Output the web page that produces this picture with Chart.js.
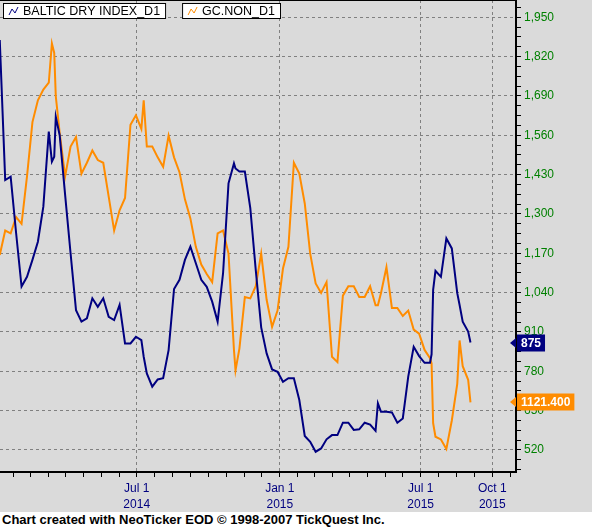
<!DOCTYPE html>
<html>
<head>
<meta charset="utf-8">
<script src="https://cdn.jsdelivr.net/npm/chart.js@4.4.1/dist/chart.umd.min.js"></script>
<style>
  html, body { margin: 0; padding: 0; background: #fff; }
  #wrap { width: 592px; height: 528px; }
  canvas { display: block; background: #dadada; }
  #credit {
    height: 16px; line-height: 16px; padding-left: 2px;
    font: bold 13px "Liberation Sans", Arial, sans-serif; color: #000;
  }
</style>
</head>
<body>
<div id="wrap">
  <canvas id="myChart" width="592" height="512"></canvas>
  <div id="credit">Chart created with NeoTicker EOD © 1998-2007 TickQuest Inc.</div>
</div>
<script>
// samples (roughly weekly, plus a few turning points)
var dates = [
  '2014-01-06','2014-01-13','2014-01-20','2014-01-27',
  '2014-02-03','2014-02-10','2014-02-17','2014-02-24',
  '2014-03-03','2014-03-10','2014-03-14','2014-03-17','2014-03-19','2014-03-24','2014-03-31',
  '2014-04-07','2014-04-14','2014-04-21','2014-04-28',
  '2014-05-05','2014-05-12','2014-05-19','2014-05-26',
  '2014-06-02','2014-06-09','2014-06-16','2014-06-23','2014-06-30',
  '2014-07-07','2014-07-10','2014-07-14','2014-07-21','2014-07-28',
  '2014-08-04','2014-08-11','2014-08-18','2014-08-25',
  '2014-09-01','2014-09-08','2014-09-15','2014-09-22','2014-09-29',
  '2014-10-06','2014-10-13','2014-10-20','2014-10-27',
  '2014-11-03','2014-11-05','2014-11-10','2014-11-17','2014-11-24',
  '2014-12-01','2014-12-08','2014-12-15','2014-12-22','2014-12-29',
  '2015-01-05','2015-01-12','2015-01-19','2015-01-26',
  '2015-02-02','2015-02-09','2015-02-16','2015-02-23',
  '2015-03-02','2015-03-09','2015-03-16','2015-03-23','2015-03-30',
  '2015-04-06','2015-04-13','2015-04-20','2015-04-27',
  '2015-05-04','2015-05-07','2015-05-11','2015-05-18','2015-05-25',
  '2015-06-01','2015-06-08','2015-06-15','2015-06-22','2015-06-29',
  '2015-07-06','2015-07-13','2015-07-15','2015-07-17','2015-07-20','2015-07-27',
  '2015-08-03','2015-08-10','2015-08-17','2015-08-20','2015-08-24','2015-08-31',
  '2015-09-03'
];

var bdi = [
  1875, 1412, 1423, 1237,
  1060, 1092, 1148, 1208,
  1324, 1572, 1473, 1489, 1621, 1560, 1363,
  1170, 982, 944, 955,
  1021, 993, 1021, 960,
  949, 999, 872, 872, 894,
  883, 828, 773, 729, 753,
  757, 850, 1052, 1082,
  1148, 1192, 1137, 1082, 1059,
  1010, 944, 1104, 1401,
  1467, 1450, 1440, 1440, 1319,
  1115, 925, 839, 786, 778,
  745, 757, 757, 685,
  566, 547, 514, 525,
  555, 569, 569, 610, 610,
  586, 588, 610, 604,
  583, 674, 646, 646, 644,
  610, 624, 762, 861, 830,
  808, 808, 836, 1049, 1112, 1092,
  1219, 1186, 1038, 999, 944, 911,
  875
];

var gold = [
  1230, 1248, 1246, 1258,
  1253, 1288, 1328, 1344,
  1352, 1357, 1386, 1379, 1347, 1320, 1288,
  1310, 1317, 1290, 1298,
  1307, 1300, 1298, 1273,
  1248, 1263, 1272, 1326, 1333,
  1323, 1344, 1310, 1310, 1302,
  1295, 1318, 1302, 1291,
  1271, 1257, 1236, 1223, 1216,
  1210, 1246, 1248, 1231,
  1160, 1145, 1161, 1199, 1198,
  1207, 1231, 1197, 1177, 1189,
  1220, 1236, 1298, 1290,
  1268, 1231, 1209, 1202,
  1210, 1155, 1151, 1200, 1207,
  1207, 1199, 1199, 1207,
  1193, 1193, 1202, 1221, 1191,
  1191, 1185, 1189, 1175, 1172,
  1160, 1154, 1150, 1106, 1096, 1094,
  1087, 1108, 1135, 1167, 1148, 1138,
  1121.4
];

var seriesNames = ['BALTIC DRY INDEX_D1', 'GC.NON_D1'];
var seriesColors = ['#000080', '#ff8c00'];
var tagDecimals = [0, 3];

var yTicks = [520, 650, 780, 910, 1040, 1170, 1300, 1430, 1560, 1690, 1820, 1950];
var xTickDates = ['2014-07-01', '2015-01-01', '2015-07-01', '2015-10-01'];
var xTickLabels = [['Jul 1', '2014'], ['Jan 1', '2015'], ['Jul 1', '2015'], ['Oct 1', '2015']];
var quarterStarts = ['2014-01-01', '2014-04-01', '2014-07-01', '2014-10-01', '2015-01-01',
                     '2015-04-01', '2015-07-01', '2015-10-01', '2016-01-01'];

var T0 = Date.UTC(2014, 0, 1);
function toDay(s) { return (Date.parse(s) - T0) / 86400000; }

var xMajor = xTickDates.map(toDay);
var X_MIN = 5.3, X_MAX = 668.5;

// minor x ticks: each quarter split in four
var xAll = [];
for (var q = 0; q < quarterStarts.length - 1; q++) {
  var a = toDay(quarterStarts[q]), b = toDay(quarterStarts[q + 1]);
  for (var j = 0; j < 4; j++) {
    var d = a + (b - a) * j / 4;
    if (d >= X_MIN && d <= X_MAX) xAll.push(d);
  }
}

// minor y ticks: four steps between labels
var yAll = [];
for (var v = yTicks[0] - 65; v < 2000; v += 32.5) yAll.push(v);

function isMajor(list, v) {
  return list.some(function (m) { return Math.abs(m - v) < 0.01; });
}

Chart.defaults.font.family = '"Liberation Sans", Arial, sans-serif';

var overlay = {
  id: 'overlay',
  afterDraw: function (chart) {
    var ctx = chart.ctx, area = chart.chartArea;
    ctx.save();
    // top frame
    ctx.strokeStyle = '#000';
    ctx.lineWidth = 1;
    ctx.beginPath();
    ctx.moveTo(area.left, area.top + 0.5);
    ctx.lineTo(area.right, area.top + 0.5);
    ctx.stroke();

    // legend boxes
    ctx.font = '12.5px "Liberation Sans", Arial, sans-serif';
    ctx.textBaseline = 'middle';
    var x = 3;
    chart.data.datasets.forEach(function (ds) {
      var w = ctx.measureText(ds.label).width + 26;
      ctx.fillStyle = '#fff';
      ctx.fillRect(x, 3, w, 16);
      ctx.strokeStyle = '#000';
      ctx.lineWidth = 1;
      ctx.strokeRect(x + 0.5, 3.5, w - 1, 15);
      ctx.strokeStyle = ds.borderColor;
      ctx.beginPath();
      ctx.moveTo(x + 6, 15);
      ctx.lineTo(x + 9, 9);
      ctx.lineTo(x + 12, 13);
      ctx.lineTo(x + 15, 7);
      ctx.stroke();
      ctx.fillStyle = '#000';
      ctx.fillText(ds.label, x + 20, 11.5);
      x += w + 16;
    });

    // last value tags on the right axis
    ctx.font = 'bold 12px "Liberation Sans", Arial, sans-serif';
    chart.data.datasets.forEach(function (ds, i) {
      var last = ds.data[ds.data.length - 1].y;
      var y = Math.round(chart.scales[ds.yAxisID].getPixelForValue(last));
      var txt = last.toFixed(tagDecimals[i]);
      var w = ctx.measureText(txt).width + 8;
      var bx = area.right + 1;
      ctx.fillStyle = ds.borderColor;
      ctx.beginPath();
      ctx.moveTo(area.right - 6, y);
      ctx.lineTo(area.right, y - 5);
      ctx.lineTo(area.right, y + 5);
      ctx.closePath();
      ctx.fill();
      ctx.fillRect(bx, y - 8.5, w, 17);
      ctx.fillStyle = '#fff';
      ctx.textAlign = 'left';
      ctx.fillText(txt, bx + 4, y + 0.5);
    });
    ctx.restore();
  }
};

function points(values) {
  return values.map(function (val, i) { return { x: toDay(dates[i]), y: val }; });
}

var ctx = document.getElementById('myChart').getContext('2d');
var myChart = new Chart(ctx, {
  type: 'line',
  data: {
    datasets: [{
      label: seriesNames[0],
      data: points(bdi),
      yAxisID: 'y',
      borderColor: seriesColors[0],
      borderWidth: 2,
      pointRadius: 0,
      tension: 0
    }, {
      label: seriesNames[1],
      data: points(gold),
      yAxisID: 'y2',
      borderColor: seriesColors[1],
      borderWidth: 2,
      pointRadius: 0,
      tension: 0
    }]
  },
  options: {
    responsive: false,
    animation: false,
    layout: { padding: 0 },
    plugins: {
      legend: { display: false },
      tooltip: { enabled: false }
    },
    scales: {
      x: {
        type: 'linear',
        position: 'bottom',
        min: X_MIN,
        max: X_MAX,
        afterBuildTicks: function (axis) {
          axis.ticks = xAll.map(function (d) { return { value: d }; });
        },
        afterFit: function (axis) {
          axis.height = 40;
          axis.paddingLeft = 0;
          axis.paddingRight = 0;
        },
        ticks: {
          autoSkip: false,
          maxRotation: 0,
          minRotation: 0,
          padding: 4,
          color: '#000080',
          font: { size: 12, lineHeight: 1.333 },
          callback: function (value) {
            var idx = xMajor.findIndex(function (m) { return Math.abs(m - value) < 0.01; });
            return idx >= 0 ? xTickLabels[idx] : '';
          }
        },
        grid: {
          color: function (c) { return c.tick && isMajor(xMajor, c.tick.value) ? '#808080' : 'rgba(0,0,0,0)'; },
          lineWidth: 1,
          tickColor: '#000',
          tickLength: 5,
          tickBorderDash: []
        },
        border: { color: '#000', width: 2, dash: [3, 3] }
      },
      y: {
        position: 'right',
        min: 447,
        max: 2007,
        afterBuildTicks: function (axis) {
          axis.ticks = yAll.map(function (v) { return { value: v }; });
        },
        afterFit: function (axis) {
          axis.width = 76;
          axis.paddingTop = 0;
          axis.paddingBottom = 0;
        },
        ticks: {
          autoSkip: false,
          padding: 3,
          color: '#008000',
          font: { size: 12 },
          callback: function (value) {
            return isMajor(yTicks, value) ? value.toLocaleString('en-US') : '';
          }
        },
        grid: {
          color: function (c) { return c.tick && isMajor(yTicks, c.tick.value) ? '#808080' : 'rgba(0,0,0,0)'; },
          lineWidth: 1,
          tickColor: '#000',
          tickLength: 5,
          tickBorderDash: []
        },
        border: { color: '#000', width: 2, dash: [3, 3] }
      },
      y2: {
        display: false,
        min: 1070,
        max: 1418
      }
    }
  },
  plugins: [overlay]
});
</script>
</body>
</html>
